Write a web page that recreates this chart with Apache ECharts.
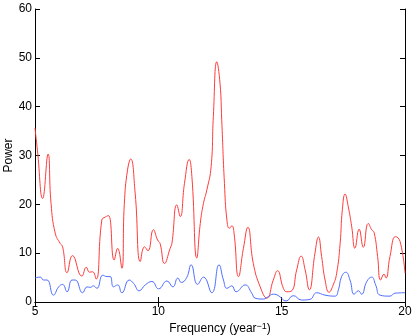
<!DOCTYPE html>
<html>
<head>
<meta charset="utf-8">
<script src="https://cdn.jsdelivr.net/npm/echarts@6/dist/echarts.min.js"></script>
<style>
  html, body { margin: 0; padding: 0; background: #fff; }
  #chart { width: 415px; height: 336px; }
</style>
</head>
<body>
<div id="chart"></div>
<script>
// 频谱数据
const redFreq = [5.00, 5.10, 5.31, 5.53, 5.65, 5.82, 6.02, 6.12, 6.30, 6.52, 6.90, 7.08, 7.21, 7.33, 7.48,
    7.71, 7.85, 7.98, 8.21, 8.35, 8.52, 8.62, 8.75, 8.88, 9.06, 9.27, 9.44, 9.58, 9.80, 9.97, 10.07,
    10.25, 10.48, 10.55, 10.75, 10.89, 11.06, 11.25, 11.36, 11.56, 11.70, 11.83, 11.97, 12.14, 12.23,
    12.37, 12.50, 12.57, 12.68, 12.78, 12.88, 12.98, 13.07, 13.25, 13.45, 13.63, 13.85, 14.13, 14.40,
    14.66, 14.83, 15.07, 15.21, 15.41, 15.61, 15.79, 15.95, 16.12, 16.35, 16.49, 16.62, 16.76, 16.92,
    17.09, 17.23, 17.37, 17.46, 17.57, 17.70, 17.84, 17.97, 18.14, 18.31, 18.51, 18.65, 18.75, 18.89,
    19.01, 19.15, 19.23, 19.39, 19.62, 19.80, 20.00];
const redPower = [35.6, 31.0, 21.2, 30.3, 20.2, 14.1, 12.0, 11.3, 6.0, 9.5, 5.3, 7.1, 6.1, 6.2, 4.7,
    16.8, 17.4, 17.7, 8.6, 11.0, 6.9, 20.0, 27.0, 29.3, 22.3, 8.3, 11.3, 10.5, 14.8, 12.7, 12.0,
    7.9, 11.0, 12.0, 19.9, 17.5, 24.3, 29.2, 25.7, 9.0, 16.1, 20.2, 23.0, 27.7, 38.0,
    49.2, 44.8, 37.3, 24.3, 16.8, 15.1, 15.6, 14.1, 5.2, 11.0, 15.3, 7.9, 3.1, 0.8,
    4.5, 6.4, 2.8, 2.1, 2.3, 6.6, 9.4, 6.6, 2.5, 10.0, 13.3, 9.3, 4.5, 2.0,
    3.5, 5.9, 12.0, 18.9, 22.1, 19.5, 15.4, 11.0, 14.9, 11.2, 16.1, 14.8, 14.2, 9.3,
    4.5, 5.7, 4.9, 9.3, 13.4, 12.4, 5.9];

const blueFreq = [5.00, 5.21, 5.35, 5.49, 5.75, 5.96, 6.12, 6.30, 6.50, 6.63, 6.93, 7.11, 7.24, 7.37, 7.51,
    7.75, 7.92, 8.05, 8.18, 8.35, 8.52, 8.82, 9.00, 9.22, 9.47, 9.74, 10.01, 10.35, 10.59, 10.79, 10.93,
    11.15, 11.33, 11.59, 11.83, 12.17, 12.46, 12.64, 12.78, 12.98, 13.15, 13.52, 13.79, 13.92, 14.26,
    14.46, 14.66, 14.87, 15.18, 15.47, 15.81, 16.15, 16.42, 16.76, 17.16, 17.30, 17.43, 17.60, 17.77,
    17.94, 18.11, 18.24, 18.45, 18.65, 18.81, 18.99, 19.39, 19.59, 20.00];
const bluePower = [4.9, 5.1, 4.5, 4.5, 1.4, 3.1, 3.6, 2.1, 4.5, 4.5, 1.9, 3.1, 3.0, 3.3, 2.8,
    5.5, 5.2, 5.2, 3.1, 3.5, 1.9, 4.5, 3.8, 2.3, 3.5, 4.2, 2.7, 4.3, 3.1, 4.9, 4.0,
    5.0, 7.6, 3.6, 5.1, 1.9, 7.6, 4.5, 2.8, 3.3, 2.1, 3.5, 1.8, 0.8, 0.6,
    1.1, 1.6, 1.3, 0.2, 1.3, 0.4, 0.55, 1.9, 1.4, 1.2, 2.5, 5.2, 6.1, 4.5,
    1.6, 2.3, 1.6, 4.2, 5.1, 3.5, 1.4, 1.2, 1.8, 1.9];

const xTicks = [5, 10, 15, 20];
const yTicks = [0, 10, 20, 30, 40, 50, 60];

function pairs(xs, ys) {
    return xs.map((x, i) => [x, ys[i]]);
}

const chart = echarts.init(document.getElementById('chart'));

const fontFamily = 'Liberation Sans, Arial, sans-serif';
const axisFont = { color: '#000', fontSize: 12, fontFamily: fontFamily };
const tickStyle = { show: true, inside: true, length: 5, lineStyle: { color: '#000', width: 1 } };
const lineStyle = { show: true, lineStyle: { color: '#000', width: 1 } };

const option = {
    animation: false,
    grid: { left: 35, right: 10, top: 9, bottom: 34, containLabel: false, outerBoundsMode: 'none' },
    xAxis: [{
        type: 'value',
        min: xTicks[0],
        max: xTicks[xTicks.length - 1],
        interval: 5,
        name: 'Frequency (year{sup|−1})',
        nameLocation: 'middle',
        nameGap: 20,
        nameMoveOverlap: false,
        nameTextStyle: Object.assign({}, axisFont, {
            rich: { sup: { fontSize: 9, verticalAlign: 'top', padding: [0, 0, 4, 0], fontFamily: fontFamily, color: '#000' } }
        }),
        axisLine: lineStyle,
        axisTick: tickStyle,
        axisLabel: Object.assign({ margin: 4 }, axisFont),
        splitLine: { show: false }
    }, {
        type: 'value',
        position: 'top',
        min: xTicks[0],
        max: xTicks[xTicks.length - 1],
        interval: 5,
        axisLine: lineStyle,
        axisTick: tickStyle,
        axisLabel: { show: false },
        splitLine: { show: false }
    }],
    yAxis: [{
        type: 'value',
        min: yTicks[0],
        max: yTicks[yTicks.length - 1],
        interval: 10,
        name: 'Power',
        nameLocation: 'middle',
        nameGap: 20,
        nameMoveOverlap: false,
        nameTextStyle: axisFont,
        axisLine: lineStyle,
        axisTick: tickStyle,
        axisLabel: Object.assign({ margin: 3 }, axisFont),
        splitLine: { show: false }
    }, {
        type: 'value',
        position: 'right',
        min: yTicks[0],
        max: yTicks[yTicks.length - 1],
        interval: 10,
        axisLine: lineStyle,
        axisTick: tickStyle,
        axisLabel: { show: false },
        splitLine: { show: false }
    }],
    series: [{
        name: 'red',
        type: 'line',
        data: pairs(redFreq, redPower),
        smooth: 0.5,
        showSymbol: false,
        lineStyle: { color: '#ff3b3b', width: 1 }
    }, {
        name: 'blue',
        type: 'line',
        data: pairs(blueFreq, bluePower),
        smooth: 0.5,
        showSymbol: false,
        lineStyle: { color: '#4f6eff', width: 1 }
    }]
};

chart.setOption(option);
</script>
</body>
</html>
